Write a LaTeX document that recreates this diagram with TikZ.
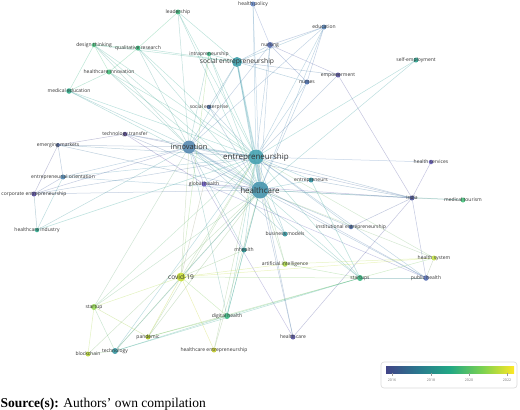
\documentclass[tikz,border=0pt]{standalone}
\usepackage{fontspec}
\newfontfamily\lblfont{Open Sans}
\newfontfamily\srcfont{Liberation Serif}
\pgfdeclarelayer{bg}
\pgfdeclarelayer{fg}
\pgfsetlayers{bg,main,fg}
\pgfdeclarehorizontalshading{viridis}{100bp}{rgb(0bp)=(0.255,0.267,0.529); rgb(25bp)=(0.255,0.267,0.529); rgb(37.5bp)=(0.165,0.471,0.557); rgb(50bp)=(0.133,0.659,0.518); rgb(62.5bp)=(0.478,0.820,0.318); rgb(75bp)=(0.992,0.906,0.145); rgb(100bp)=(0.992,0.906,0.145)}
\definecolor{lblgray}{HTML}{333333}
\definecolor{clead}{HTML}{35B779}
\definecolor{chpol}{HTML}{5A7EC0}
\definecolor{cdesth}{HTML}{3CBB75}
\definecolor{cqual}{HTML}{35B779}
\definecolor{cintra}{HTML}{2DB27D}
\definecolor{csoce}{HTML}{2E96A3}
\definecolor{cedu}{HTML}{4A79B0}
\definecolor{cnurs}{HTML}{4A62AB}
\definecolor{cselfe}{HTML}{1F9E89}
\definecolor{cempw}{HTML}{4F4A9E}
\definecolor{cnurses}{HTML}{4065A8}
\definecolor{chinn}{HTML}{3CBB75}
\definecolor{cmedu}{HTML}{22A884}
\definecolor{csocent}{HTML}{3B5E94}
\definecolor{cttran}{HTML}{48378A}
\definecolor{cemkt}{HTML}{3B528B}
\definecolor{cinnov}{HTML}{4A80AA}
\definecolor{centr}{HTML}{3A9CAB}
\definecolor{ceor}{HTML}{4682B0}
\definecolor{cghlth}{HTML}{5E4CB8}
\definecolor{ccorp}{HTML}{4A3F94}
\definecolor{chc}{HTML}{3A8EA8}
\definecolor{centrs}{HTML}{1F8A9C}
\definecolor{chserv}{HTML}{5B50B5}
\definecolor{cindia}{HTML}{414A94}
\definecolor{cmedt}{HTML}{3DBC74}
\definecolor{cinst}{HTML}{3E5F9E}
\definecolor{cbmod}{HTML}{2A8F9A}
\definecolor{chind}{HTML}{20A486}
\definecolor{cmh}{HTML}{1F8A8A}
\definecolor{cai}{HTML}{A5D43B}
\definecolor{ccovid}{HTML}{C4DC2A}
\definecolor{csups}{HTML}{2DB37A}
\definecolor{chsys}{HTML}{BFDF3F}
\definecolor{cpub}{HTML}{4A64AC}
\definecolor{csup}{HTML}{8FD54A}
\definecolor{cdig}{HTML}{2DB37A}
\definecolor{cpand}{HTML}{A6C21F}
\definecolor{ctech}{HTML}{2A8F9A}
\definecolor{cblk}{HTML}{B5D630}
\definecolor{chent}{HTML}{C0C823}
\definecolor{chcare}{HTML}{4C4A9C}
\tikzset{
  dotnode/.style={circle, inner sep=0pt, minimum size=#1, fill opacity=0.85},
  lbl/.style={text=lblgray, inner sep=0pt},
  edgeline/.style={draw opacity=0.32},
}
\newcommand\vn[6]{%
  \node[dotnode=#4, fill=c#1] (#1) at (#2,#3) {};
  \begin{pgfonlayer}{fg}
  \node[lbl, font={\lblfont\fontsize{#5}{#5}\selectfont}] (#1-l) at (#2,#3) {#6};
  \end{pgfonlayer}}
\newcommand\E[3][0.5pt]{\draw[edgeline, line width=#1, draw=c#2!50!c#3] (#2) -- (#3);}
\newcommand\Ehub[2]{\foreach \t in {#2} {\E{#1}{\t}}}
\begin{document}
\begin{tikzpicture}[x=1pt,y=-1pt]
\useasboundingbox (0,0) rectangle (520,410);
% nodes
\vn{lead}{178}{12}{5pt}{5pt}{leadership}
\vn{hpol}{253}{4}{5pt}{5pt}{health policy}
\vn{desth}{94}{45}{4.5pt}{5pt}{design thinking}
\vn{qual}{138}{48}{5pt}{5pt}{qualitative research}
\vn{intra}{209}{54}{4.5pt}{5pt}{intrapreneurship}
\vn{soce}{237}{62}{10pt}{6.7pt}{social entrepreneurship}
\vn{edu}{324}{27}{5pt}{5pt}{education}
\vn{nurs}{270}{45}{6pt}{5pt}{nursing}
\vn{selfe}{416}{60}{5pt}{5pt}{self-employment}
\vn{empw}{338}{75}{5pt}{5pt}{empowerment}
\vn{nurses}{307}{82}{5pt}{5pt}{nurses}
\vn{hinn}{109}{72}{5pt}{5pt}{healthcare innovation}
\vn{medu}{69}{91}{5.5pt}{5pt}{medical education}
\vn{socent}{209}{107}{4.5pt}{5pt}{social enterprise}
\vn{ttran}{125}{134}{4.5pt}{5pt}{technology transfer}
\vn{emkt}{58}{145}{4pt}{5pt}{emerging markets}
\vn{innov}{189}{147}{13pt}{7.4pt}{innovation}
\vn{entr}{256}{157}{15pt}{8pt}{entrepreneurship}
\vn{eor}{63}{177}{5pt}{5pt}{entrepreneurial orientation}
\vn{ghlth}{204}{184}{5pt}{5pt}{global health}
\vn{corp}{34}{194}{5pt}{5pt}{corporate entrepreneurship}
\vn{hc}{260}{190}{17pt}{8pt}{healthcare}
\vn{entrs}{311}{180}{5pt}{5pt}{entrepreneurs}
\vn{hserv}{431}{162}{4.5pt}{5pt}{health services}
\vn{india}{412}{198}{5pt}{5pt}{india}
\vn{medt}{463}{200}{5pt}{5pt}{medical tourism}
\vn{inst}{351}{227}{4.5pt}{5pt}{institutional entrepreneurship}
\vn{bmod}{285}{234}{5pt}{5pt}{business models}
\vn{hind}{37}{230}{4.5pt}{5pt}{healthcare industry}
\vn{mh}{244}{250}{5pt}{5pt}{mhealth}
\vn{ai}{285}{264}{5.5pt}{5pt}{artificial intelligence}
\vn{covid}{181}{277}{9pt}{6.6pt}{covid-19}
\vn{sups}{360}{278}{6pt}{5pt}{startups}
\vn{hsys}{434}{258}{5pt}{5pt}{health system}
\vn{pub}{426}{278}{5.5pt}{5pt}{public health}
\vn{sup}{94}{307}{6pt}{5pt}{startup}
\vn{dig}{227}{316}{6pt}{5pt}{digital health}
\vn{pand}{148}{337}{5pt}{5pt}{pandemic}
\vn{tech}{115}{351}{6pt}{5pt}{technology}
\vn{blk}{88}{354}{5pt}{5pt}{blockchain}
\vn{hent}{214}{350}{5pt}{5pt}{healthcare entrepreneurship}
\vn{hcare}{293}{337}{5pt}{5pt}{health care}
% edges
\begin{pgfonlayer}{bg}
\E[2pt]{entr}{hc}
\E[1.4pt]{entr}{innov}
\E[1.2pt]{innov}{hc}
\E[1.4pt]{entr}{soce}
\E[1pt]{soce}{hc}
\Ehub{entr}{lead,hpol,desth,qual,intra,edu,nurs,selfe,empw,nurses,hinn,medu,socent,ttran,emkt,eor,ghlth,corp,entrs,hserv,india,inst,bmod,mh,ai,covid,sups,hsys,pub,sup,dig,pand,tech,hent,hind,hcare}
\Ehub{hc}{lead,hpol,desth,qual,intra,edu,nurs,nurses,selfe,hinn,medu,socent,ttran,emkt,eor,ghlth,corp,entrs,india,inst,bmod,mh,ai,covid,sups,hsys,pub,sup,dig,pand,tech,hent,hcare,blk,medt}
\Ehub{innov}{lead,desth,qual,hinn,medu,ttran,emkt,eor,corp,ghlth,soce,nurs,edu,india,covid,sups,dig,sup,mh,bmod,hind,pub,intra}
\Ehub{soce}{lead,qual,desth,nurs,nurses,edu,socent,empw,intra}
\E{lead}{qual}
\Ehub{desth}{qual,hinn,medu}
\E{qual}{hinn}
\E{medu}{hinn}
\Ehub{edu}{nurs,nurses}
\Ehub{nurs}{nurses,empw,hpol}
\E{empw}{india}
\Ehub{ttran}{ghlth,emkt}
\Ehub{emkt}{corp,eor}
\Ehub{eor}{corp,hind}
\E{corp}{hind}
\Ehub{ghlth}{india,pub,hcare}
\Ehub{india}{hserv,medt,pub,inst,hcare,entrs}
\Ehub{pub}{sups,hsys}
\Ehub{hsys}{sups,covid,ai}
\Ehub{sups}{covid,dig,ai,entrs,pand,tech}
\Ehub{covid}{sup,pand,dig,hent,mh,ai,tech,intra,ghlth}
\Ehub{sup}{blk,tech,pand}
\Ehub{dig}{mh,pand,tech}
\E{tech}{blk}
\end{pgfonlayer}
% legend
\draw[rounded corners=3pt, draw=black!15, line width=0.6pt] (381,362) rectangle (517,388);
\shade[shading=viridis] (386,366) rectangle (514,373);
\foreach \x/\yr in {392/2016,431/2018,469/2020,507/2022}{
  \draw[black!40, line width=0.4pt] (\x,373) -- (\x,375.5);
  \node[font={\lblfont\fontsize{3.6pt}{3.6pt}\selectfont}, text=black!55, inner sep=0pt] (tick\yr) at (\x,380) {\yr};
}
\node[anchor=base west, inner sep=0pt, font={\srcfont\fontsize{13.5pt}{14pt}\selectfont}] (src) at (0.5,407.5) {\textbf{Source(s):} Authors’ own compilation};
\end{tikzpicture}
\end{document}
